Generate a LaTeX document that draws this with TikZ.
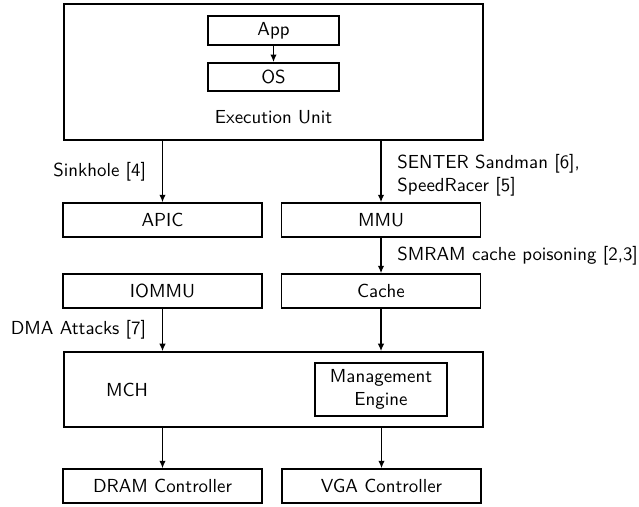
\documentclass[tikz,border=0pt]{standalone}
\usetikzlibrary{positioning,arrows.meta}

\tikzset{
  unit/.style={draw, line width=0.75pt, minimum width=105.5pt, minimum height=18pt},
  inner unit/.style={draw, line width=0.75pt, minimum width=69.4pt, minimum height=15pt},
  flow/.style={-{Latex[length=4pt, width=3.4pt]}, line width=0.75pt},
}

\begin{document}
\begin{tikzpicture}[x=0.53pt, y=-0.53pt, font=\sffamily]
  \useasboundingbox (0,0) rectangle (639,506);

  % CPU
  \node[unit, minimum width=222pt, minimum height=72pt] (exec) at (273.5,72) {};
  \node (eu) at (273.5,117) {Execution Unit};
  \node[inner unit] (app) at (273.5,30.5) {App};
  \node[inner unit] (os) at (273.5,77) {OS};

  \node[unit] (apic) at (162.5,220) {APIC};
  \node[unit] (mmu) at (381,220) {MMU};
  \node[unit] (iommu) at (162.5,291) {IOMMU};
  \node[unit] (cache) at (381,291) {Cache};

  % chipset
  \node[unit, minimum width=222pt, minimum height=39.8pt] (mch) at (273.5,389.5) {};
  \node (mchlabel) at (127,389.5) {MCH};
  \node[inner unit, align=center, minimum width=70pt, minimum height=28pt] (me) at (381,389.5)
    {Management\\Engine};

  \node[unit] (dram) at (162.5,486) {DRAM Controller};
  \node[unit] (vga) at (381.5,486) {VGA Controller};

  \draw[flow] (app) -- (os);
  \draw[flow] (apic.north |- exec.south) -- (apic.north)
    node[midway, left=5pt] {Sinkhole [4]};
  \draw[flow] (mmu.north |- exec.south) -- (mmu.north)
    node[midway, right=5pt, yshift=-2pt, align=left] {SENTER Sandman [6],\\SpeedRacer [5]};
  \draw[flow] (mmu) -- (cache)
    node[midway, right=5pt] {SMRAM cache poisoning [2,3]};
  \draw[flow] (iommu.south) -- (iommu.south |- mch.north)
    node[midway, left=5pt] {DMA Attacks [7]};
  \draw[flow] (cache.south) -- (cache.south |- mch.north);
  \draw[flow] (dram.north |- mch.south) -- (dram.north);
  \draw[flow] (vga.north |- mch.south) -- (vga.north);
\end{tikzpicture}
\end{document}
